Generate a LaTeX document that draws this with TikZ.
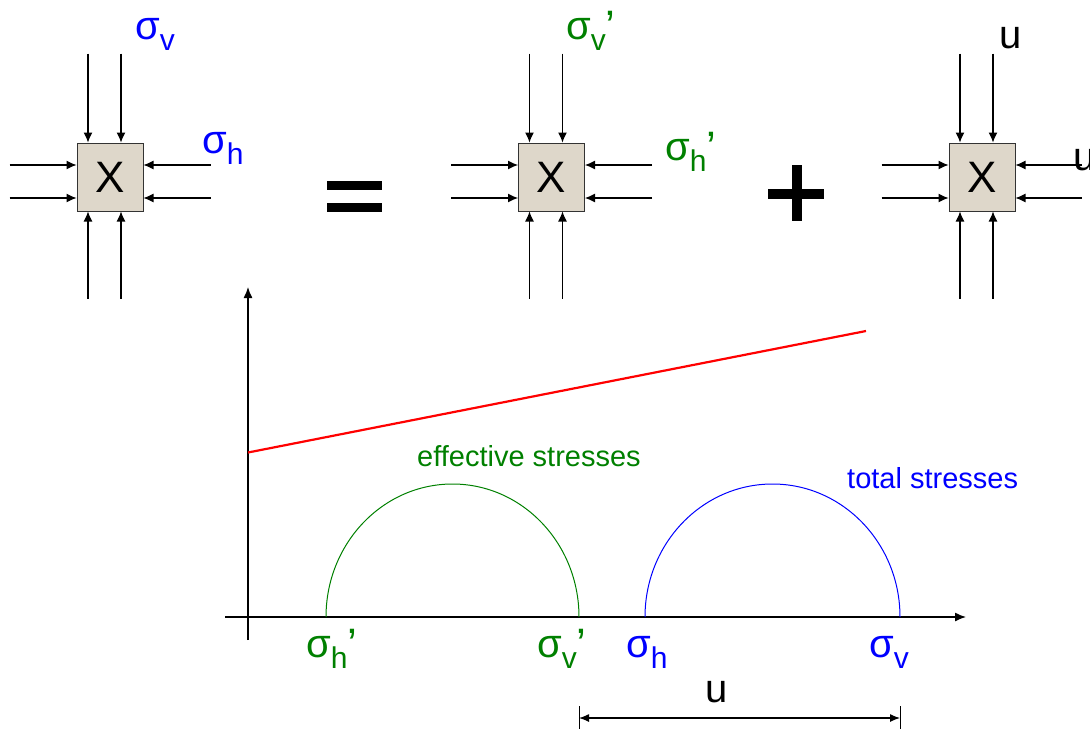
\documentclass[tikz,border=0pt]{standalone}
\usepackage{fontspec}
\setmainfont{Liberation Sans}
\usetikzlibrary{arrows.meta,calc}
\definecolor{boxfill}{RGB}{222,215,202}
\definecolor{dgreen}{RGB}{0,128,0}
\newcommand\sgm[1]{σ\raisebox{-0.28em}{\fontsize{30}{32}\selectfont #1}}
\newcommand\prm{\raisebox{-2pt}{\fontsize{44}{48}\selectfont ’}}
\begin{document}
\begin{tikzpicture}[x=1pt,y=-1pt,
  elem/.style={draw=black!80,line width=1pt,fill=boxfill,minimum width=66pt,minimum height=68pt,inner sep=0pt,font=\fontsize{44}{48}\selectfont},
  arr/.style={-{Latex[length=10pt,width=9pt]},line width=1.1pt},
  lbl/.style={inner sep=0pt,anchor=base west,font=\fontsize{40}{44}\selectfont},
  txt/.style={inner sep=0pt,anchor=base west,font=\fontsize{29}{32}\selectfont},
  bar/.style={line width=9pt},
  axis/.style={line width=1.3pt,-{Latex[length=11pt,width=9pt]}}]
\useasboundingbox (0,0) rectangle (1090,729);
% elements
\node[elem] (b1) at (110,177) {X};
\node[elem] (b2) at (551.5,177) {X};
\node[elem] (b3) at (982,177) {X};
\foreach \b/\r in {b1/67,b2/67,b3/66}{
  \foreach \dx in {-22,11}{
    \draw[arr] ([xshift=\dx pt,yshift=89pt]\b.north) -- ([xshift=\dx pt]\b.north);
    \draw[arr] ([xshift=\dx pt,yshift=-87pt]\b.south) -- ([xshift=\dx pt]\b.south);
  }
  \foreach \dy in {12,-21}{
    \draw[arr] ([xshift=-67pt,yshift=\dy pt]\b.west) -- ([yshift=\dy pt]\b.west);
    \draw[arr] ([xshift=\r pt,yshift=\dy pt]\b.east) -- ([yshift=\dy pt]\b.east);
  }
}
% labels of elements
\node[lbl,text=blue] (sv1) at (135,39) {\sgm{v}};
\node[lbl,text=blue] (sh1) at (202,153) {\sgm{h}};
\node[lbl,text=dgreen] (sv2) at (566,39) {\sgm{v}\prm};
\node[lbl,text=dgreen] (sh2) at (665,160) {\sgm{h}\prm};
\node[lbl] (u1) at (999,48) {u};
\node[lbl] (u2) at (1073,170) {u};
% equals and plus
\draw[bar] (327,185.5) -- (382,185.5);
\draw[bar] (327,207) -- (382,207);
\draw[line width=10pt] (768,194) -- (824,194);
\draw[line width=10pt] (796.5,165) -- (796.5,221);
% axes
\coordinate (xo) at (225,617);
\coordinate (xe) at (966,617);
\coordinate (yo) at (248,640);
\coordinate (ye) at (248,287);
\draw[axis] (xo) -- (xe);
\draw[axis] (yo) -- (ye);
% failure line
\coordinate (r1) at (248,452.5);
\coordinate (r2) at (866,331);
\draw[red,line width=2.2pt] (r1) -- (r2);
% circles
\draw[dgreen,line width=1pt] (326,617) arc[start angle=180,end angle=0,x radius=126.5pt,y radius=133pt];
\draw[blue,line width=1pt] (645,617) arc[start angle=180,end angle=0,x radius=127.5pt,y radius=133pt];
\node[txt,text=dgreen] (eff) at (417,466) {effective stresses};
\node[txt,text=blue] (tot) at (847,488) {total stresses};
% axis labels
\node[lbl,text=dgreen] (a1) at (306,657) {\sgm{h}\prm};
\node[lbl,text=dgreen] (a2) at (537,657) {\sgm{v}\prm};
\node[lbl,text=blue] (a3) at (626,657) {\sgm{h}};
\node[lbl,text=blue] (a4) at (869,657) {\sgm{v}};
\node[lbl] (u3) at (705,702) {u};
% dimension
\coordinate (d1) at (579,718);
\coordinate (d2) at (900,718);
\draw[line width=1pt] (579,706) -- (579,729);
\draw[line width=1pt] (900,706) -- (900,729);
\draw[{Latex[length=10pt,width=8pt]}-{Latex[length=10pt,width=8pt]},line width=1.2pt] (d1) -- (d2);
\end{tikzpicture}
\end{document}
